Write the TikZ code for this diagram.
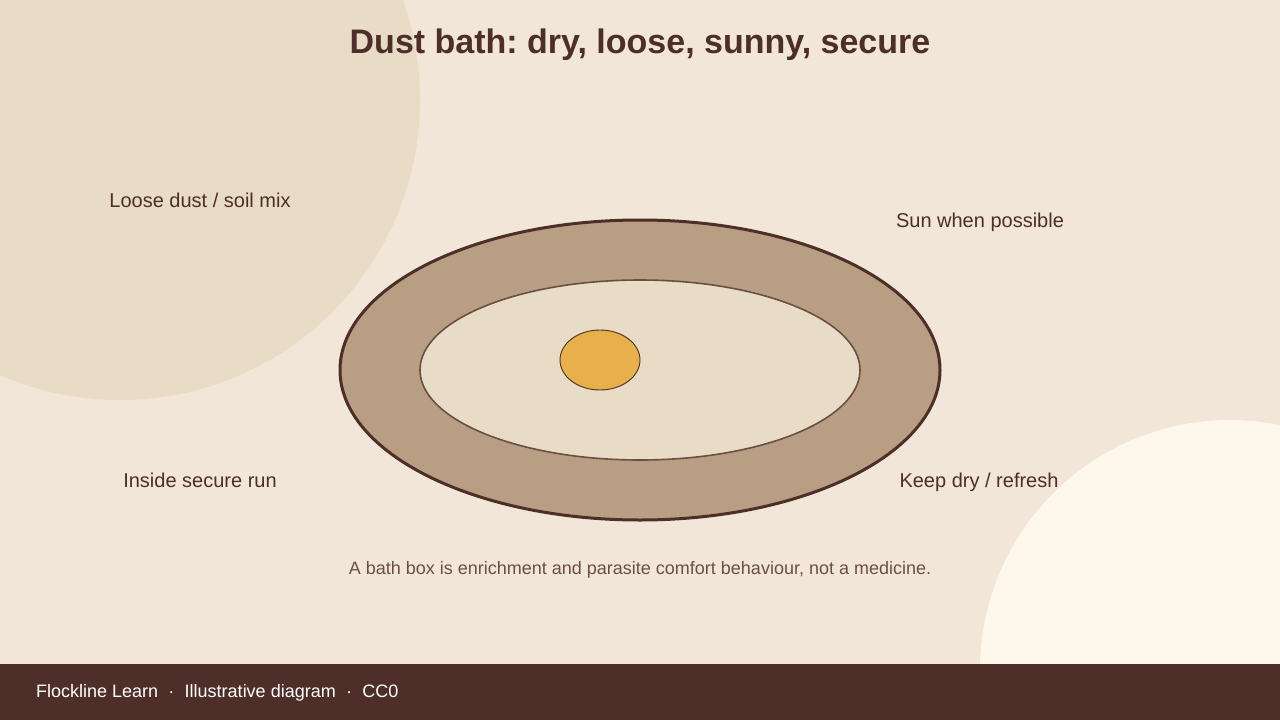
\documentclass[tikz,border=0pt]{standalone}
\usepackage{fontspec}
\setmainfont{Liberation Sans}
\usetikzlibrary{shapes.geometric}
\definecolor{bg}{HTML}{F1E6D7}
\definecolor{blobA}{HTML}{E9DCC6}
\definecolor{blobB}{HTML}{FEF7EC}
\definecolor{dark}{HTML}{4D2E28}
\definecolor{mid}{HTML}{6B4F45}
\definecolor{ring}{HTML}{B89E83}
\definecolor{inner}{HTML}{E8DCC7}
\definecolor{gold}{HTML}{E7B04B}
\tikzset{
  lbl/.style={text=dark, font=\fontsize{20}{24}\selectfont, inner sep=0pt, anchor=base},
  oval/.style={ellipse, inner sep=0pt, outer sep=0pt},
}
\begin{document}
\frenchspacing
\begin{tikzpicture}[x=1pt,y=-1pt]
\useasboundingbox (0,0) rectangle (1280,720);
\fill[bg] (0,0) rectangle (1280,720);
\begin{scope}
\clip (0,0) rectangle (1280,664);
\fill[blobA] (120,100) circle[radius=300];
\fill[blobB] (1230,670) circle[radius=250];
\end{scope}
\fill[dark] (0,664) rectangle (1280,720);
\node[text=dark, font=\bfseries\fontsize{34}{40}\selectfont, inner sep=0pt, anchor=base] (title) at (640,53) {Dust bath: dry, loose, sunny, secure};
\node[oval, draw=dark, line width=3pt, fill=ring, minimum width=600pt, minimum height=300pt] (outer) at (640,370) {};
\node[oval, draw=mid, line width=1.6pt, fill=inner, minimum width=440pt, minimum height=180pt] (inner) at (640,370) {};
\node[oval, draw=dark, line width=0.9pt, fill=gold, minimum width=80pt, minimum height=60pt] (sun) at (600,360) {};
\node[lbl] (l1) at (200,207.3) {Loose dust / soil mix};
\node[lbl] (l2) at (980,227.3) {Sun when possible};
\node[lbl] (l3) at (200,487.3) {Inside secure run};
\node[lbl] (l4) at (979,487.3) {Keep dry / refresh};
\node[text=mid, font=\fontsize{18}{22}\selectfont, inner sep=0pt, anchor=base] (cap) at (640,574.5) {A bath box is enrichment and parasite comfort behaviour, not a medicine.};
\node[text=white, font=\fontsize{18}{22}\selectfont, inner sep=0pt, anchor=base west] (foot) at (36,697.5) {Flockline Learn\hspace{0.57em}·\hspace{0.57em}Illustrative diagram\hspace{0.57em}·\hspace{0.57em}CC0};
\end{tikzpicture}
\end{document}
